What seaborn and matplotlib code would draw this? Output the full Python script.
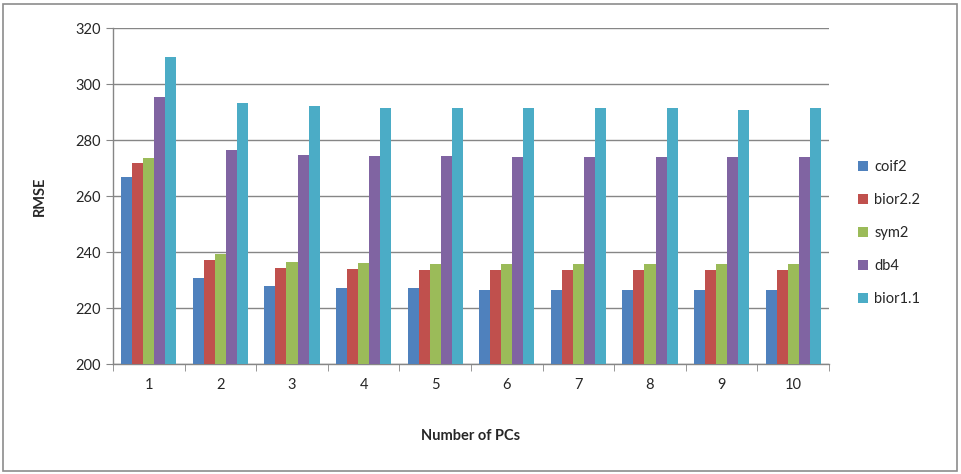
import numpy as np
import pandas as pd
import seaborn as sns
from matplotlib import pyplot as plt
from matplotlib.patches import Rectangle

pcs = [1, 2, 3, 4, 5, 6, 7, 8, 9, 10]
wavelets = ["coif2", "bior2.2", "sym2", "db4", "bior1.1"]
coif2 = [266.8, 230.7, 227.9, 227.0, 227.0, 226.6, 226.6, 226.6, 226.6, 226.6]
bior22 = [271.8, 237.1, 234.3, 234.0, 233.5, 233.4, 233.4, 233.4, 233.4, 233.4]
sym2 = [273.6, 239.3, 236.3, 236.2, 235.7, 235.6, 235.6, 235.6, 235.6, 235.6]
db4 = [295.3, 276.4, 274.8, 274.3, 274.2, 274.1, 274.1, 274.0, 274.0, 273.8]
bior11 = [309.6, 293.1, 292.1, 291.5, 291.4, 291.4, 291.4, 291.3, 290.8, 291.3]
colors = ["#4F81BD", "#C0504D", "#9BBB59", "#8064A2", "#4BACC6"]

series = [coif2, bior22, sym2, db4, bior11]
df = pd.DataFrame({
    "pc": np.tile(pcs, len(wavelets)),
    "wavelet": np.repeat(wavelets, len(pcs)),
    "rmse": np.concatenate(series),
})

sns.set_style("white")
plt.rcParams["font.family"] = ["Lato", "DejaVu Sans"]

fig = plt.figure(figsize=(9.61, 4.74), dpi=100)
ax = fig.add_axes([113 / 961, 1 - 364 / 474, (829 - 113) / 961, (364 - 28) / 474])

sns.barplot(data=df, x="pc", y="rmse", hue="wavelet", palette=colors,
            width=0.77, saturation=1, ax=ax, zorder=3, linewidth=0)

ax.set_ylim(200, 320)
ax.set_yticks(range(200, 321, 20))
ax.set_xlim(-0.5, 9.5)
ax.grid(axis="y", color="#868686", linewidth=1, zorder=0)
for side in ["top", "right"]:
    ax.spines[side].set_visible(False)
for side in ["left", "bottom"]:
    ax.spines[side].set_color("#868686")
    ax.spines[side].set_linewidth(1)

# category tick marks sit between groups, like Excel
ax.set_xticks(np.arange(-0.5, 10, 1), minor=True)
ax.tick_params(axis="x", which="major", length=0, pad=10, labelsize=10.5)
ax.tick_params(axis="x", which="minor", length=5, color="#868686", direction="out")
ax.tick_params(axis="y", length=5, color="#868686", direction="out", labelsize=10.5, pad=4)
ax.yaxis.set_ticks_position("left")
ax.xaxis.set_ticks_position("bottom")

ax.set_xlabel("Number of PCs", fontweight="bold", fontsize=10.5, labelpad=27)
ax.set_ylabel("RMSE", fontweight="bold", fontsize=10.5, labelpad=20)

handles, labels = ax.get_legend_handles_labels()
ax.legend(handles, labels, loc="center left", bbox_to_anchor=(845 / 961, 241 / 474),
          bbox_transform=fig.transFigure, frameon=False, fontsize=10.5,
          handlelength=0.7, handleheight=0.7, handletextpad=0.4, labelspacing=1.3)

fig.patches.append(Rectangle((3 / 961, 3 / 474), 954 / 961, 467 / 474, transform=fig.transFigure,
                             fill=False, edgecolor="#8c8c8c", linewidth=1.2))

plt.savefig("out.png", dpi=100)
